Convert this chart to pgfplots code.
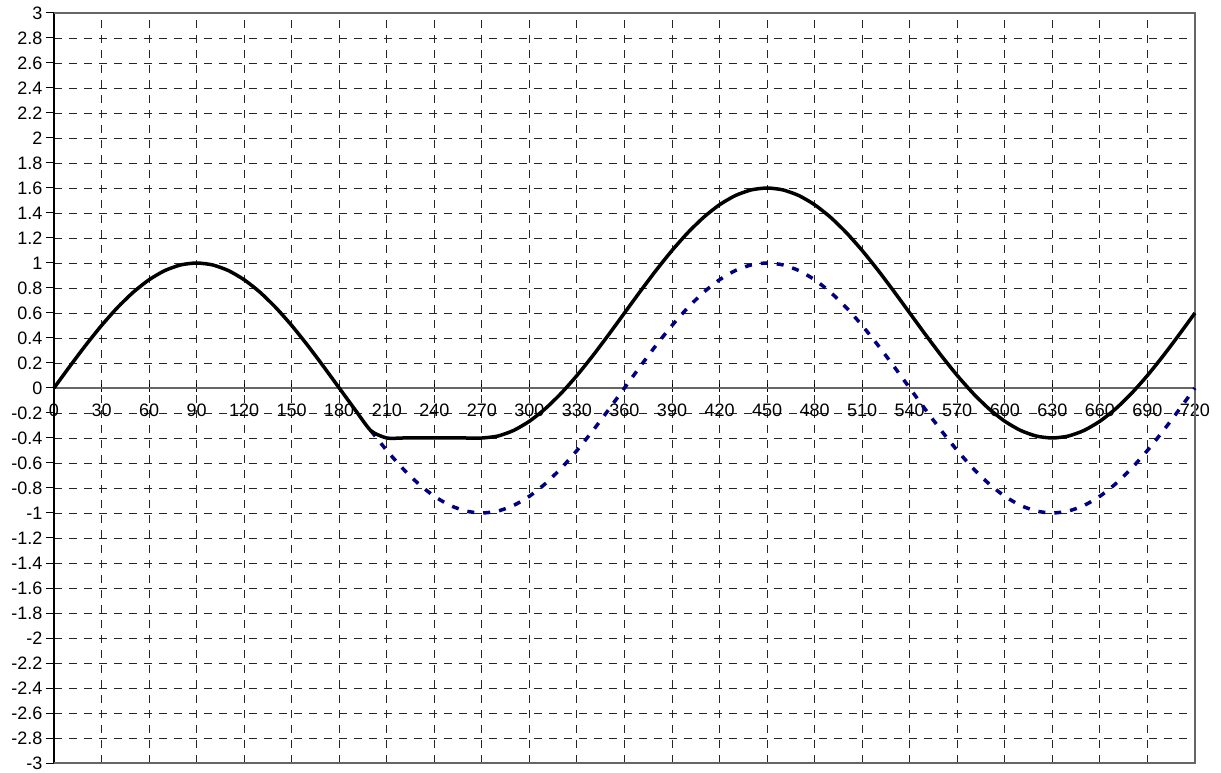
\documentclass[border=0pt]{standalone}
\usepackage{pgfplots}
\pgfplotsset{compat=1.18}
\usepackage{fontspec}
\setmainfont{Liberation Sans}
\definecolor{navyline}{RGB}{0,0,128}
\begin{document}
\begin{tikzpicture}
\path[use as bounding box] (0,0) rectangle (1221pt,772pt);
\begin{axis}[
  at={(54pt,9pt)}, anchor=south west,
  scale only axis, width=1141pt, height=750pt,
  xmin=0, xmax=720, ymin=-3, ymax=3,
  axis x line=middle, axis y line=left,
  hide obscured x ticks=false, hide obscured y ticks=false,
  xtick={0,30,60,90,120,150,180,210,240,270,300,330,360,390,420,450,480,510,540,570,600,630,660,690,720},
  ytick={-3,-2.8,-2.6,-2.4,-2.2,-2,-1.8,-1.6,-1.4,-1.2,-1,-0.8,-0.6,-0.4,-0.2,0,0.2,0.4,0.6,0.8,1,1.2,1.4,1.6,1.8,2,2.2,2.4,2.6,2.8,3},
  grid=major,
  major grid style={black!85, line width=0.9pt, dash pattern=on 8pt off 7pt},
  x axis line style={-, gray!80!black, line width=1.5pt},
  y axis line style={-, black, line width=2.5pt},
  xtick align=center, ytick align=outside,
  major tick length=8pt,
  tick style={black, line width=1pt},
  tick label style={font=\fontsize{18}{21}\selectfont},
  /pgf/number format/assume math mode=true,
  /pgf/number format/fixed,
  /pgf/number format/precision=1,
  yticklabel style={xshift=0pt},
  xticklabel style={yshift=-8pt},
  clip=false,
]
\draw[gray!80!black, line width=1.5pt] (rel axis cs:0,0) -- (rel axis cs:1,0) -- (rel axis cs:1,1) -- (rel axis cs:0,1);
\addplot[navyline, line width=3.5pt, dash pattern=on 7pt off 9pt, smooth, tension=0.4] table {
x y
200 -0.3420
210 -0.5
220 -0.6428
230 -0.7660
240 -0.8660
250 -0.9397
260 -0.9848
270 -1
280 -0.9848
290 -0.9397
300 -0.8660
310 -0.7660
320 -0.6428
330 -0.5
340 -0.3420
350 -0.1736
360 0
370 0.1736
380 0.3420
390 0.5
400 0.6428
410 0.7660
420 0.8660
430 0.9397
440 0.9848
450 1
460 0.9848
470 0.9397
480 0.8660
490 0.7660
500 0.6428
510 0.5
520 0.3420
530 0.1736
540 0
550 -0.1736
560 -0.3420
570 -0.5
580 -0.6428
590 -0.7660
600 -0.8660
610 -0.9397
620 -0.9848
630 -1
640 -0.9848
650 -0.9397
660 -0.8660
670 -0.7660
680 -0.6428
690 -0.5
700 -0.3420
710 -0.1736
720 0
};
\addplot[black, line width=3.5pt, line join=round, smooth, tension=0.4] table {
x y
0 0
10 0.1736
20 0.3420
30 0.5
40 0.6428
50 0.7660
60 0.8660
70 0.9397
80 0.9848
90 1
100 0.9848
110 0.9397
120 0.8660
130 0.7660
140 0.6428
150 0.5
160 0.3420
170 0.1736
180 0
190 -0.1736
200 -0.3420
210 -0.4
220 -0.4
230 -0.4
240 -0.4
250 -0.4
260 -0.4
270 -0.4
280 -0.3848
290 -0.3397
300 -0.2660
310 -0.1660
320 -0.0428
330 0.1
340 0.2580
350 0.4264
360 0.6
370 0.7736
380 0.9420
390 1.1
400 1.2428
410 1.3660
420 1.4660
430 1.5397
440 1.5848
450 1.6
460 1.5848
470 1.5397
480 1.4660
490 1.3660
500 1.2428
510 1.1
520 0.9420
530 0.7736
540 0.6
550 0.4264
560 0.2580
570 0.1
580 -0.0428
590 -0.1660
600 -0.2660
610 -0.3397
620 -0.3848
630 -0.4
640 -0.3848
650 -0.3397
660 -0.2660
670 -0.1660
680 -0.0428
690 0.1
700 0.2580
710 0.4264
720 0.6
};
\end{axis}
\end{tikzpicture}
\end{document}
